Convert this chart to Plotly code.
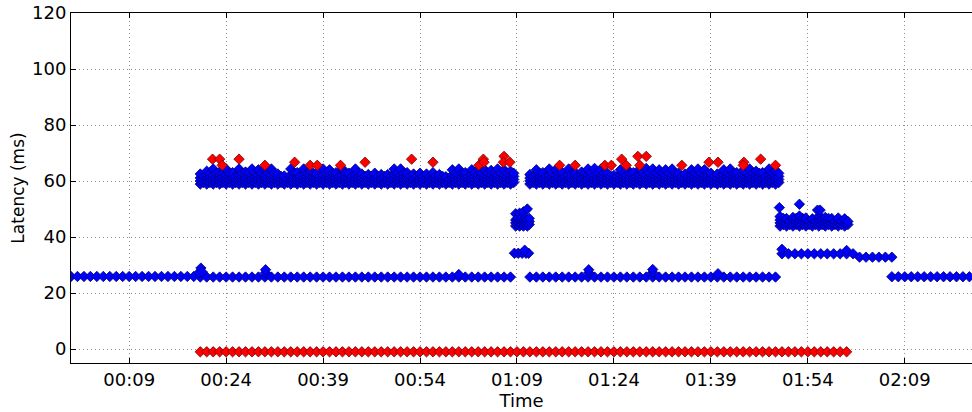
import plotly.graph_objects as go

# ---------------- data (time in minutes after 00:00, latency in ms) ----------------
tick_minutes = [9, 24, 39, 54, 69, 84, 99, 114, 129]
tick_labels = ["00:09", "00:24", "00:39", "00:54", "01:09", "01:24", "01:39", "01:54", "02:09"]
y_ticks = [0, 20, 40, 60, 80, 100, 120]

# baseline path (~26 ms), one sample per minute
base_a_t0 = 0
base_a = [25.9, 25.9, 25.9, 25.9, 25.9, 25.9, 25.9, 25.9, 25.9, 25.9,
          25.9, 25.9, 25.9, 25.9, 25.9, 25.9, 25.9, 25.9, 25.9, 25.9,
          25.7, 25.7, 25.7, 25.7, 25.7, 25.7, 25.7, 25.7, 25.7, 25.7,
          25.7, 25.7, 25.7, 25.7, 25.7, 25.7, 25.7, 25.7, 25.7, 25.7,
          25.7, 25.7, 25.7, 25.7, 25.7, 25.7, 25.7, 25.7, 25.7, 25.7,
          25.7, 25.7, 25.7, 25.7, 25.7, 25.7, 25.7, 25.7, 25.7, 25.7,
          25.7, 25.7, 25.7, 25.7, 25.7, 25.7, 25.7, 25.7, 25.7]
base_b_t0 = 71
base_b = [25.7, 25.7, 25.7, 25.7, 25.7, 25.7, 25.7, 25.7, 25.7, 25.7,
          25.7, 25.7, 25.7, 25.7, 25.7, 25.7, 25.7, 25.7, 25.7, 25.7,
          25.7, 25.7, 25.7, 25.7, 25.7, 25.7, 25.7, 25.7, 25.7, 25.7,
          25.7, 25.7, 25.7, 25.7, 25.7, 25.7, 25.7, 25.7, 25.7]
base_c_t0 = 127
base_c = [25.8, 25.8, 25.8, 25.8, 25.8, 25.8, 25.8, 25.8, 25.8, 25.8,
          25.8, 25.8, 25.8]

# ~34 / ~33 ms path
mid_a_t = [68.6, 69.2, 69.8, 70.4, 70.8]
mid_a = [34.2, 34.2, 34.2, 34.2, 34.2]
mid_b_t0 = 110
mid_b = [34.0, 34.0, 34.0, 34.0, 34.0, 34.0, 34.0, 34.0, 34.0, 34.0,
         34.0, 34.0]
low_b_t0 = 122
low_b = [32.8, 32.8, 32.8, 32.8, 32.8, 32.8]

# dense bands: top of the point cloud per column
band60_levels = [58.9, 60.0, 61.1, 62.2]
band60a_t0 = 20
band60a_top = [62.5, 63.5, 64.3, 63.2, 64.3, 63.0, 64.3, 63.2, 64.3, 64.0,
               64.3, 64.3, 62.5, 61.8, 64.3, 63.0, 64.3, 63.2, 62.8, 64.3,
               64.0, 63.0, 64.3, 62.8, 64.3, 62.5, 62.3, 62.8, 62.3, 62.3,
               64.3, 64.3, 63.0, 62.5, 62.8, 62.5, 63.0, 62.3, 61.5, 64.0,
               64.3, 63.0, 64.0, 64.3, 64.0, 63.8, 64.3, 64.0, 63.5]
band60b_t0 = 71
band60b_top = [62.3, 64.0, 63.0, 64.3, 64.0, 63.0, 64.3, 63.0, 63.2, 64.3,
               64.5, 64.3, 62.8, 62.0, 64.0, 64.3, 63.0, 64.3, 64.5, 64.3,
               64.0, 64.0, 64.3, 62.8, 62.5, 64.0, 64.3, 64.0, 62.8, 62.5,
               64.0, 64.3, 63.0, 63.8, 64.3, 63.5, 63.0, 64.3, 63.5]
band45_levels = [43.9, 45.0, 46.1]
band45a_t0 = 68.8
band45a_step = 0.6
band45a_top = [48.3, 48.5, 49.0, 50.0]
band45b_t0 = 109.7
band45b_top = [47.3, 46.6, 47.0, 47.5, 46.8, 46.5, 47.5, 47.0, 46.6, 46.8, 46.5]

# isolated blue points (bumps and outliers)
blue_extra_t = [19.8, 20.1, 20.3, 30.1, 30.1, 60.0, 80.1, 80.1, 90.0, 90.0, 100.1,
                70.2, 110.0, 120.0, 109.6, 112.7, 115.5, 115.9]
blue_extra_y = [27.3, 28.9, 27.5, 27.2, 28.3, 26.6, 27.2, 28.3, 27.3, 28.4, 26.9,
                35.3, 35.6, 35.2, 50.5, 51.7, 49.6, 49.6]

# red: high-latency outliers
red_t = [21.9, 23.0, 23.4, 26.0, 30.0, 34.6, 37.0, 38.1, 41.7, 45.5,
         52.7, 56.0, 63.1, 63.8, 63.9, 67.0, 66.9, 67.9, 75.6, 78.0,
         82.6, 83.6, 85.2, 85.9, 87.7, 89.0, 88.0, 94.5, 98.7, 100.1,
         104.1, 104.0, 106.7, 109.0]
red_y = [67.8, 67.8, 65.6, 67.8, 65.6, 66.7, 65.6, 65.6, 65.6, 66.7,
         67.8, 66.7, 65.6, 67.8, 66.7, 68.8, 66.7, 66.7, 65.6, 65.6,
         65.6, 65.6, 67.8, 65.6, 68.8, 68.8, 65.6, 65.6, 66.7, 66.7,
         66.7, 65.6, 67.8, 65.6]

# red: lost probes plotted at -1, one per minute
loss_t0 = 20
loss_y = [-1, -1, -1, -1, -1, -1, -1, -1, -1, -1, -1, -1, -1, -1, -1, -1, -1, -1, -1, -1,
          -1, -1, -1, -1, -1, -1, -1, -1, -1, -1, -1, -1, -1, -1, -1, -1, -1, -1, -1, -1,
          -1, -1, -1, -1, -1, -1, -1, -1, -1, -1, -1, -1, -1, -1, -1, -1, -1, -1, -1, -1,
          -1, -1, -1, -1, -1, -1, -1, -1, -1, -1, -1, -1, -1, -1, -1, -1, -1, -1, -1, -1,
          -1, -1, -1, -1, -1, -1, -1, -1, -1, -1, -1, -1, -1, -1, -1, -1, -1, -1, -1, -1,
          -1]


# ---------------- build point lists ----------------
def series(t0, vals, step=1.0):
    return [t0 + i * step for i in range(len(vals))], list(vals)


def band(t0, tops, levels, step=1.0):
    xs, ys = [], []
    half = (levels[1] - levels[0]) / 2.0
    for i, top in enumerate(tops):
        t = t0 + i * step
        for lv in levels:
            if lv < top - 0.3:
                xs.append(t); ys.append(lv)
        xs.append(t); ys.append(top)
        for lv in levels:
            if lv + half < top - 0.3:
                xs.append(t + step / 2.0); ys.append(lv + half)
    return xs, ys


bx, by = [], []
for t0, vals in [(base_a_t0, base_a), (base_b_t0, base_b), (base_c_t0, base_c),
                 (mid_b_t0, mid_b), (low_b_t0, low_b)]:
    xs, ys = series(t0, vals)
    bx += xs; by += ys
bx += mid_a_t; by += mid_a
for xs, ys in [band(band60a_t0, band60a_top, band60_levels),
               band(band60b_t0, band60b_top, band60_levels),
               band(band45a_t0, band45a_top, band45_levels, band45a_step),
               band(band45b_t0, band45b_top, band45_levels)]:
    bx += xs; by += ys
bx += blue_extra_t; by += blue_extra_y

lx, ly = series(loss_t0, loss_y)

MSIZE = 8
blue_marker = dict(symbol="diamond", size=MSIZE, color="#0000ff",
                   line=dict(color="#000070", width=0.8))
red_marker = dict(symbol="diamond", size=MSIZE, color="#ff0000",
                  line=dict(color="#700000", width=0.8))

fig = go.Figure()
fig.add_trace(go.Scatter(x=bx, y=by, mode="markers", marker=blue_marker,
                         showlegend=False, hoverinfo="skip"))
fig.add_trace(go.Scatter(x=lx, y=ly, mode="markers", marker=red_marker,
                         showlegend=False, hoverinfo="skip"))
fig.add_trace(go.Scatter(x=red_t, y=red_y, mode="markers", marker=red_marker,
                         showlegend=False, hoverinfo="skip"))

font = dict(family="DejaVu Sans", size=18, color="black")
yfont = dict(family="DejaVu Sans", size=17, color="black")
grid = dict(showgrid=True, gridcolor="#909090", griddash="1px,3px", gridwidth=1)
fig.update_layout(
    width=972, height=412,
    margin=dict(l=71, r=0, t=13, b=49),
    paper_bgcolor="white", plot_bgcolor="white",
    font=font,
    xaxis=dict(
        range=[0, 139.4], tickmode="array", tickvals=tick_minutes, ticktext=tick_labels,
        zeroline=False, showline=True, linecolor="black", linewidth=1,
        mirror="ticks", ticks="inside", ticklen=5, tickcolor="black",
        title=dict(text="Time", font=font, standoff=2), tickfont=font, **grid,
    ),
    yaxis=dict(
        range=[-5, 120], tickmode="array", tickvals=y_ticks,
        zeroline=False, showline=True, linecolor="black", linewidth=1,
        mirror=False, ticks="inside", ticklen=5, tickcolor="black",
        title=dict(text="Latency (ms)", font=yfont, standoff=3), tickfont=font, **grid,
    ),
)

fig.write_html("out.html", config={"displayModeBar": False},
               post_script="document.body.style.margin='0';document.body.style.overflow='hidden';")
